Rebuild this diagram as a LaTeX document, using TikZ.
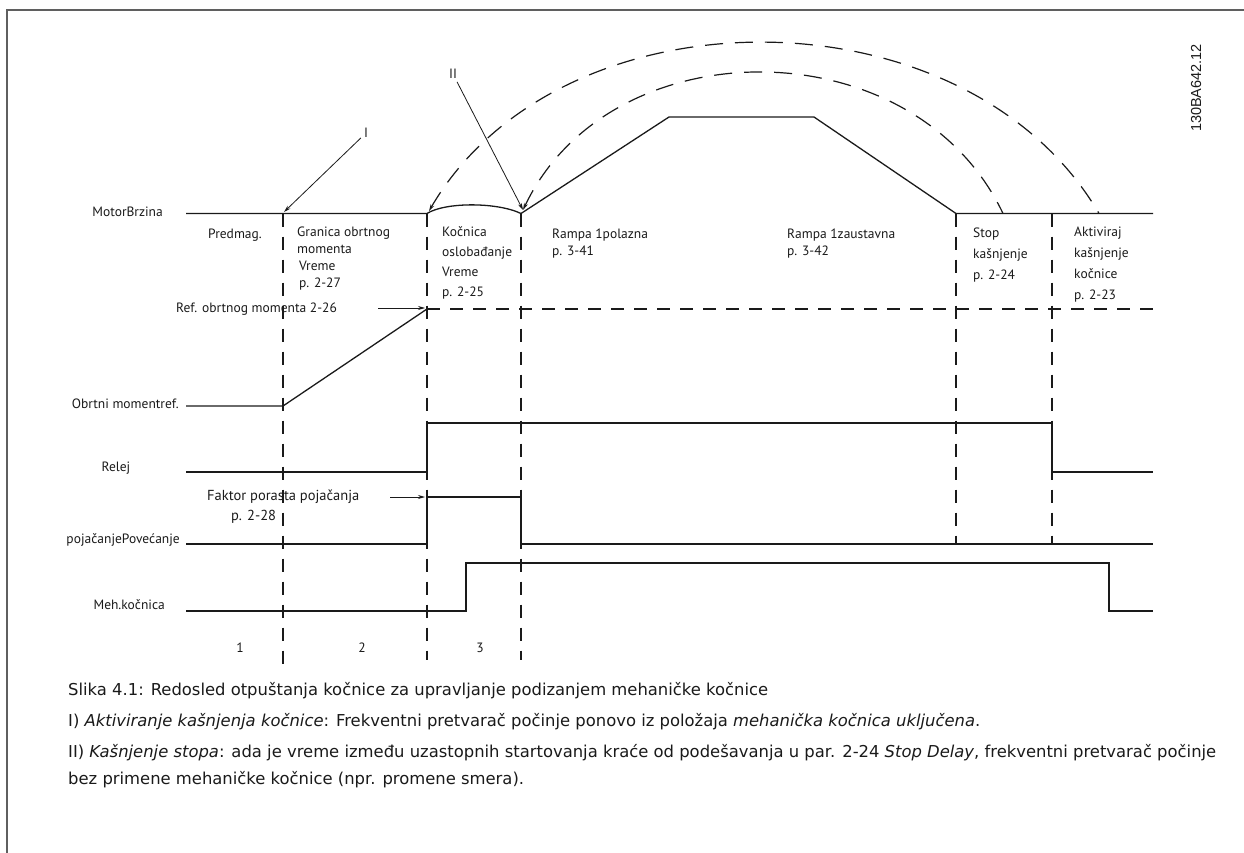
\documentclass[tikz,border=0pt]{standalone}
\usepackage{fontspec}
\setmainfont{PT Sans}
\newfontfamily\captionfont{DejaVu Sans}
\newfontfamily\codefont{Liberation Sans}
\usetikzlibrary{arrows.meta}
\definecolor{frame-gray}{HTML}{5F5F5F}
\definecolor{ink}{HTML}{1A1A1A}

\begin{document}
\begin{tikzpicture}[x=1pt, y=-1pt,
    every node/.style={inner sep=0pt, text=ink, font=\fontsize{13.5}{17}\selectfont},
    signal/.style={line width=1.3pt, ink},
    marker/.style={line width=1.2pt, ink, dash pattern=on 13pt off 10pt},
    sweep/.style={line width=1.2pt, ink, dash pattern=on 18pt off 12pt},
    pointer/.style={line width=0.8pt, ink, -{Stealth[length=7pt, width=4pt]}},
    phase/.style={anchor=base west, align=left},
    caption/.style={anchor=base west, font=\captionfont\fontsize{16.4}{19}\selectfont}]

  \useasboundingbox (0,0) rectangle (1244,853);
  \draw[frame-gray, line width=1.5pt] (7,853) -- (7,10) -- (1244,10);

  % signal names
  \node[anchor=base east] (speedlbl) at (163,216) {MotorBrzina};
  \node[anchor=base east] (torquelbl) at (179,408) {Obrtni momentref.};
  \node[anchor=base] (relaylbl) at (116,471) {Relej};
  \node[anchor=base east] (boostlbl) at (180,543) {pojačanjePovećanje};
  \node[anchor=base east] (brakelbl) at (165,609) {Meh.kočnica};

  % phase boundaries
  \foreach \x/\y in {283/672, 427/660, 521/660, 956/544, 1052/544}
    \draw[marker] (\x,213.5) -- (\x,\y);

  % traces
  \draw[signal] (186,213.5) -- (427,213.5) .. controls (445,202) and (497,202) .. (521,213.5)
    -- (669,117) -- (814,117) -- (956,213.5) -- (1153,213.5);
  \draw[signal] (186,406) -- (283,406) -- (427,309);
  \draw[marker] (427,309) -- (1153,309);
  \draw[signal] (186,472) -- (427,472) -- (427,423) -- (1052,423) -- (1052,472) -- (1153,472);
  \draw[signal] (186,544) -- (427,544) -- (427,497) -- (521,497) -- (521,544) -- (1153,544);
  \draw[signal] (186,611) -- (466,611) -- (466,563) -- (1109,563) -- (1109,611) -- (1153,611);

  % restart sweeps
  \coordinate (liftOff) at (429,211);
  \coordinate (rampStart) at (523,210);
  \draw[sweep, {Stealth[length=7pt, width=4pt]}-] (liftOff) .. controls (560,-14) and (966,-14) .. (1099,213.5);
  \draw[sweep, {Stealth[length=7pt, width=4pt]}-] (rampStart) .. controls (610,26) and (914,26) .. (1003,213.5);

  % markers I and II
  \node[inner sep=3pt] (markI) at (366,133) {I};
  \node[inner sep=3pt] (markII) at (453,74) {II};
  \coordinate (brakeOn) at (284,212);
  \draw[pointer] (markI) -- (brakeOn);
  \draw[pointer] (markII) -- (rampStart);

  % phase texts (base = last line)
  \node[anchor=base] (premag) at (235,238) {Predmag.};
  \node[phase, font=\fontsize{13.5}{16.7}\selectfont] (torquetime) at (297,287)
    {Granica obrtnog\\momenta\\\hspace{2pt}Vreme\\\hspace{2pt}p. 2-27};
  \node[phase, font=\fontsize{13.5}{19.7}\selectfont] (releasetime) at (442,296)
    {Kočnica\\oslobađanje\\Vreme\\p. 2-25};
  \node[phase] (rampup) at (552,255) {Rampa 1polazna\\p. 3-41};
  \node[phase] (rampdown) at (787,255) {Rampa 1zaustavna\\p. 3-42};
  \node[phase, font=\fontsize{13.5}{21}\selectfont] (stopdelay) at (973,279)
    {Stop\\kašnjenje\\p. 2-24};
  \node[phase, font=\fontsize{13.5}{20.7}\selectfont] (activedelay) at (1074,299)
    {Aktiviraj\\kašnjenje\\kočnice\\p. 2-23};

  % reference pointers
  \node[anchor=base west] (reflbl) at (176,312) {Ref. obrtnog momenta 2-26};
  \coordinate (refFrom) at (378,308);
  \coordinate (refTo) at (425,308);
  \draw[pointer] (refFrom) -- (refTo);
  \node[phase, font=\fontsize{14.5}{20}\selectfont] (gainlbl) at (207,520)
    {Faktor porasta pojačanja\\\hspace{24pt}p. 2-28};
  \coordinate (gainFrom) at (390,497);
  \coordinate (gainTo) at (425,497);
  \draw[pointer] (gainFrom) -- (gainTo);

  % phase numbers
  \node[anchor=base] (ph1) at (240,652) {1};
  \node[anchor=base] (ph2) at (362,652) {2};
  \node[anchor=base] (ph3) at (480,652) {3};

  \node[rotate=90, font=\codefont\fontsize{14.5}{17}\selectfont] (code) at (1196,88) {130BA642.12};

  % caption
  \node[caption] (cap0) at (68,695)
    {Slika 4.1: Redosled otpuštanja kočnice za upravljanje podizanjem mehaničke kočnice};
  \node[caption] (cap1) at (68,726)
    {I) \textit{Aktiviranje kašnjenja kočnice}: Frekventni pretvarač počinje ponovo iz položaja \textit{mehanička kočnica uključena}.};
  \node[caption] (cap2) at (68,757)
    {II) \textit{Kašnjenje stopa}: ada je vreme između uzastopnih startovanja kraće od podešavanja u par. 2-24 \textit{Stop Delay}, frekventni pretvarač počinje};
  \node[caption] (cap3) at (68,784)
    {bez primene mehaničke kočnice (npr. promene smera).};
\end{tikzpicture}
\end{document}
